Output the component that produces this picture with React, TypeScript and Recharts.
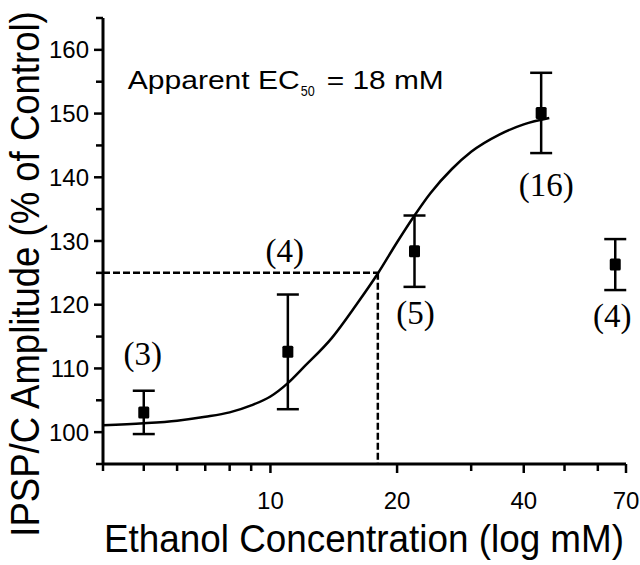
import {
  ComposedChart,
  Line,
  Scatter,
  ErrorBar,
  XAxis,
  YAxis,
  ReferenceLine,
  ReferenceDot,
  Label,
} from "recharts";

// measured points (mean +/- SEM), with the number of cells
const concentrations = [5, 11, 22, 44, 66];
const amplitudes = [103.1, 112.6, 128.4, 150.1, 126.3];
const errors = [3.4, 9.0, 5.6, 6.3, 4.0];
const cellCounts = ["(3)", "(4)", "(5)", "(16)", "(4)"];

// fitted curve
const fitConc = [4, 5, 6, 7, 8, 9, 10, 11, 12, 14, 16, 18, 20, 22, 24, 27, 30, 35, 40, 46];
const fitAmp = [101.1, 101.4, 101.8, 102.4, 103.1, 104.2, 105.6, 107.7, 110.2, 114.8, 120.0, 124.9, 129.8, 134.0, 137.5, 141.3, 144.0, 146.7, 148.3, 149.3];

const xTicks = [4, 5, 6, 7, 8, 9, 10, 20, 30, 40, 50, 60, 70];
const xLabels = [10, 20, 40, 70];
const yTicks = [95, 100, 105, 110, 115, 120, 125, 130, 135, 140, 145, 150, 155, 160, 165];
const yLabels = [100, 110, 120, 130, 140, 150, 160];

const ec50 = 18;
const halfMax = 125;

const SANS = "'Liberation Sans', Arial, sans-serif";
const SERIF = "'Liberation Serif', 'Times New Roman', serif";

const points = concentrations.map((c, i) => ({
  i,
  x: c,
  y: amplitudes[i],
  err: errors[i],
  n: cellCounts[i],
}));
const curve = fitConc.map((c, i) => ({ x: c, y: fitAmp[i] }));

// where each "(n)" sits relative to its point, px
const countOffsets = [
  [-1, -47],
  [-3, -90],
  [1, 73],
  [5, 83],
  [-3, 62],
];

function XTick({ x, y, payload }: any) {
  const v = payload.value;
  const major = xLabels.includes(v);
  return (
    <g>
      <line x1={x} x2={x} y1={y} y2={y + (major ? 9 : 7)} stroke="#000" strokeWidth={2.5} />
      {major && (
        <text x={x} y={y + 45} textAnchor="middle" fontSize={24} fontFamily={SANS} fill="#000">
          {v}
        </text>
      )}
    </g>
  );
}

function YTick({ x, y, payload }: any) {
  const v = payload.value;
  const major = yLabels.includes(v);
  return (
    <g>
      <line x1={x} x2={x - (major ? 9 : 7)} y1={y} y2={y} stroke="#000" strokeWidth={2.5} />
      {major && (
        <text x={x - 14} y={y + 8.5} textAnchor="end" fontSize={24} fontFamily={SANS} fill="#000">
          {v}
        </text>
      )}
    </g>
  );
}

function PointShape(props: any) {
  const { cx, cy, payload } = props;
  const [dx, dy] = countOffsets[payload.i];
  return (
    <g>
      <rect x={cx - 5.5} y={cy - 6} width={11} height={12} rx={1.5} fill="#000" />
      <text x={cx + dx} y={cy + dy} textAnchor="middle" fontSize={33} fontFamily={SERIF} fill="#000">
        {payload.n}
      </text>
    </g>
  );
}

function Ec50Note({ viewBox }: any) {
  const { x, y } = viewBox;
  return (
    <g fontFamily={SANS} fill="#000">
      <text x={x} y={y} fontSize={26} textLength={172} lengthAdjust="spacingAndGlyphs">
        Apparent EC
      </text>
      <text x={x + 173} y={y + 7} fontSize={14} textLength={14} lengthAdjust="spacingAndGlyphs">
        50
      </text>
      <text x={x + 199} y={y} fontSize={26} textLength={117} lengthAdjust="spacingAndGlyphs">
        = {ec50} mM
      </text>
    </g>
  );
}

export default function App() {
  return (
    <div style={{ position: "absolute", left: 0, top: 0 }}>
      <ComposedChart
        width={640}
        height={565}
        margin={{ top: 18, right: 14, left: 0, bottom: 0 }}
      >
        <XAxis
          dataKey="x"
          type="number"
          scale="log"
          domain={[4, 70]}
          ticks={xTicks}
          interval={0}
          height={101}
          tickSize={0}
          tickMargin={0}
          tickLine={false}
          tick={<XTick />}
          axisLine={{ stroke: "#000", strokeWidth: 3 }}
        >
          <Label
            content={() => (
              <text
                x={364}
                y={552}
                textAnchor="middle"
                fontSize={38}
                fontFamily={SANS}
                textLength={520}
                lengthAdjust="spacingAndGlyphs"
                fill="#000"
              >
                Ethanol Concentration (log mM)
              </text>
            )}
          />
        </XAxis>
        <YAxis
          dataKey="y"
          type="number"
          domain={[95, 165]}
          ticks={yTicks}
          interval={0}
          width={103}
          tickSize={0}
          tickMargin={0}
          tickLine={false}
          tick={<YTick />}
          axisLine={{ stroke: "#000", strokeWidth: 3 }}
        >
          <Label
            content={() => (
              <text
                transform="translate(39,274) rotate(-90) scale(1,1.12)"
                textAnchor="middle"
                fontSize={36.5}
                fontFamily={SANS}
                fill="#000"
              >
                IPSP/C Amplitude (% of Control)
              </text>
            )}
          />
        </YAxis>
        <ReferenceLine
          segment={[
            { x: 4, y: halfMax },
            { x: ec50, y: halfMax },
          ]}
          stroke="#000"
          strokeWidth={2.5}
          strokeDasharray="7 3"
        />
        <ReferenceLine
          segment={[
            { x: ec50, y: halfMax },
            { x: ec50, y: 95 },
          ]}
          stroke="#000"
          strokeWidth={2.5}
          strokeDasharray="7 3"
        />
        <ReferenceDot x={4.58} y={153.9} r={0} stroke="none" label={<Ec50Note />} />
        <Line
          data={curve}
          dataKey="y"
          type="monotone"
          stroke="#000"
          strokeWidth={2.5}
          dot={false}
          activeDot={false}
          isAnimationActive={false}
        />
        <Scatter data={points} dataKey="y" shape={<PointShape />} isAnimationActive={false}>
          <ErrorBar dataKey="err" direction="y" width={11} stroke="#000" strokeWidth={2.5} />
        </Scatter>
      </ComposedChart>
    </div>
  );
}
